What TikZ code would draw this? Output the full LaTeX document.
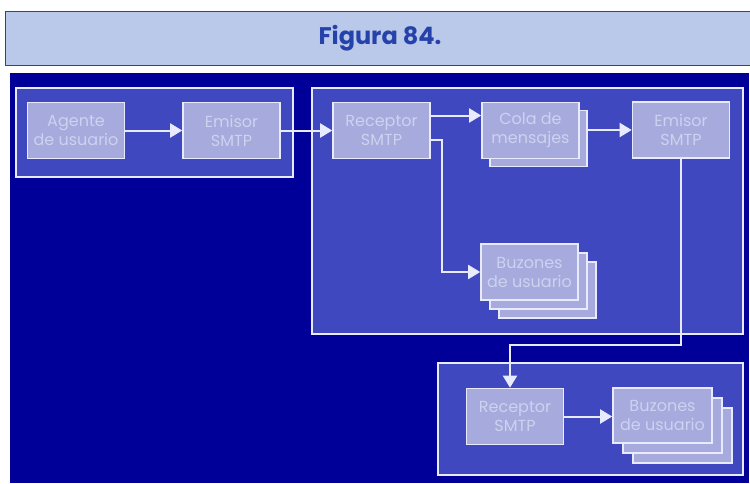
\documentclass[tikz,border=0pt]{standalone}
\usepackage{fontspec}
\setmainfont{Poppins}
\usetikzlibrary{arrows.meta}
\definecolor{titlefill}{RGB}{186,200,233}
\definecolor{titleblue}{RGB}{36,66,170}
\definecolor{darkbg}{RGB}{0,0,152}
\definecolor{grpfill}{RGB}{64,72,192}
\definecolor{boxfill}{RGB}{166,170,220}
\definecolor{boxtext}{RGB}{206,210,240}
\definecolor{lineclr}{RGB}{232,234,255}
\tikzset{
  grp/.style={draw=lineclr, line width=2pt, fill=grpfill, inner sep=0pt},
  box/.style={draw=lineclr, line width=1.6pt, fill=boxfill, text=boxtext,
    minimum width=97pt, minimum height=56pt, inner sep=0pt, align=center,
    font=\fontsize{16}{19}\selectfont},
  conn/.style={draw=lineclr, line width=2pt, -{Triangle[length=12pt,width=14pt]}},
}
\begin{document}
\begin{tikzpicture}[x=1pt,y=-1pt]
\useasboundingbox (0,0) rectangle (750,483);
\fill[white] (0,0) rectangle (750,483);
% title
\node[draw=titleblue, line width=1pt, fill=titlefill, minimum width=747pt, minimum height=54pt, inner sep=0pt] (titlebox) at (378.5,38) {};
\node[text=titleblue, font=\fontsize{24}{28}\selectfont\bfseries] (title) at (380,38) {Figura 84.};
% background
\fill[darkbg] (10,73) rectangle (749,483);
% groups
\node[grp, minimum width=277pt, minimum height=89pt] (g1) at (154.5,132.5) {};
\node[grp, minimum width=431pt, minimum height=246pt] (g2) at (527.5,211) {};
\node[grp, minimum width=305pt, minimum height=112pt] (g3) at (590.5,419) {};
% group 1
\node[box] (agente) at (76,130.5) {Agente\\de usuario};
\node[box] (emisor1) at (231.5,130.5) {Emisor\\SMTP};
% group 2
\node[box] (receptor) at (381.5,130.5) {Receptor\\SMTP};
\node[box] (colab) at (538.5,138.5) {};
\node[box] (cola) at (530.5,130.5) {Cola de\\mensajes};
\node[box] (emisor2) at (681,130) {Emisor\\SMTP};
\node[box] (buz1c) at (547.5,290) {};
\node[box] (buz1b) at (538.5,281) {};
\node[box] (buz1) at (529.5,272) {Buzones\\de usuario};
% group 3
\node[box] (receptor3) at (515,416.5) {Receptor\\SMTP};
\node[box, minimum width=99pt, minimum height=55pt] (buz3c) at (682.5,435.5) {};
\node[box, minimum width=99pt, minimum height=55pt] (buz3b) at (672.5,425.5) {};
\node[box, minimum width=99pt, minimum height=55pt] (buz3) at (662.5,415.5) {Buzones\\de usuario};
% connectors
\draw[conn] (agente.east) -- (emisor1.west);
\draw[conn] (emisor1.east) -- (receptor.west);
\draw[conn] ([yshift=15pt]receptor.east) -- ([yshift=15pt]receptor.east -| cola.west);
\draw[conn] (colab.east |- emisor2.west) -- (emisor2.west);
\coordinate (k1) at (442,140);
\draw[conn] ([yshift=-9.5pt]receptor.east) -- (k1) |- (buz1.west);
\coordinate (k2) at (681,345);
\draw[conn] (emisor2.south) -- (k2) -| ([xshift=-5pt]receptor3.north);
\draw[conn] (receptor3.east) -- (receptor3.east -| buz3.west);
\end{tikzpicture}
\end{document}
